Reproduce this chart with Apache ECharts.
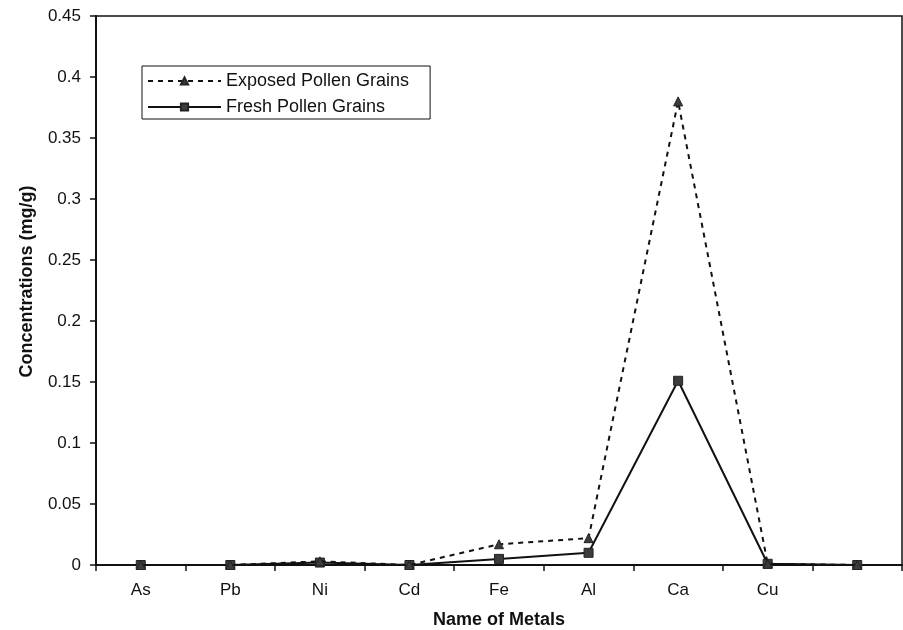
<!DOCTYPE html>
<html>
<head>
<meta charset="utf-8">
<script src="https://cdn.jsdelivr.net/npm/echarts@6/dist/echarts.min.js"></script>
<style>html,body{margin:0;padding:0;background:#fff;}#c{width:903px;height:630px;}</style>
</head>
<body>
<div id="c"></div>
<script>
var categories = ['As', 'Pb', 'Ni', 'Cd', 'Fe', 'Al', 'Ca', 'Cu', ''];
var exposed = [0, 0, 0.003, 0, 0.017, 0.022, 0.38, 0.001, 0];
var fresh = [0, 0, 0.002, 0, 0.005, 0.01, 0.151, 0.001, 0];
var seriesNames = ['Exposed Pollen Grains', 'Fresh Pollen Grains'];
var yTicks = { min: 0, max: 0.45, interval: 0.05 };

var FONT = '"Liberation Sans", Arial, sans-serif';
var chart = echarts.init(document.getElementById('c'), null, { renderer: 'canvas' });
chart.setOption({
  animation: false,
  backgroundColor: '#fff',
  textStyle: { fontFamily: FONT, color: '#111' },
  grid: { left: 96, right: 1, top: 16, bottom: 65, show: true, borderColor: '#111', borderWidth: 1.5,
    containLabel: false, outerBoundsMode: 'none' },
  legend: {
    orient: 'vertical', left: 142, top: 66,
    itemWidth: 73, itemHeight: 9, itemGap: 8,
    padding: [6, 21, 3, 5],
    borderColor: '#111', borderWidth: 1, backgroundColor: '#fff',
    textStyle: { fontFamily: FONT, fontSize: 18, color: '#111', lineHeight: 18 },
    data: seriesNames
  },
  xAxis: {
    type: 'category', data: categories, boundaryGap: true,
    name: 'Name of Metals', nameLocation: 'middle', nameGap: 46,
    nameTextStyle: { fontFamily: FONT, fontSize: 18, fontWeight: 'bold', color: '#111' },
    axisLine: { lineStyle: { color: '#111', width: 2 } },
    axisTick: { show: true, length: 6, inside: false, alignWithLabel: false, lineStyle: { color: '#111', width: 1.5 } },
    axisLabel: { fontFamily: FONT, fontSize: 17, color: '#111', margin: 17, interval: 0 },
    splitLine: { show: false }
  },
  yAxis: {
    type: 'value', min: yTicks.min, max: yTicks.max, interval: yTicks.interval,
    name: 'Concentrations (mg/g)', nameLocation: 'middle', nameGap: 60, nameRotate: 90,
    nameTextStyle: { fontFamily: FONT, fontSize: 18, fontWeight: 'bold', color: '#111', padding: [0, 0, 0, 18] },
    axisLine: { show: true, lineStyle: { color: '#111', width: 2 } },
    axisTick: { show: true, length: 6, inside: false, lineStyle: { color: '#111', width: 1.5 } },
    axisLabel: { fontFamily: FONT, fontSize: 17, color: '#111', margin: 15,
      formatter: function (v) { return String(+v.toFixed(2)); } },
    splitLine: { show: false }
  },
  series: [
    {
      name: seriesNames[0], type: 'line', data: exposed,
      symbol: 'triangle', symbolSize: 9, showAllSymbol: true,
      lineStyle: { color: '#111', width: 2, type: [5, 5] },
      itemStyle: { color: '#3c3c3c', borderColor: '#222', borderWidth: 1 },
      z: 3
    },
    {
      name: seriesNames[1], type: 'line', data: fresh,
      symbol: 'rect', symbolSize: 9, showAllSymbol: true,
      lineStyle: { color: '#111', width: 2, type: 'solid' },
      itemStyle: { color: '#3c3c3c', borderColor: '#222', borderWidth: 1 },
      z: 2
    }
  ]
});
</script>
</body>
</html>
